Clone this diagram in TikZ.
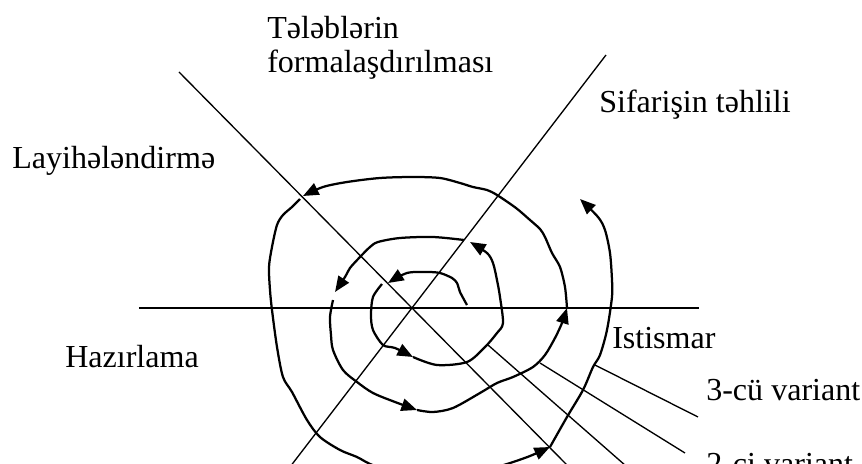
\documentclass[tikz,border=0pt]{standalone}
\usepackage{fontspec}
\setmainfont{Liberation Serif}
\usetikzlibrary{arrows.meta}
\begin{document}
\begin{tikzpicture}[>={Triangle[length=3.9mm,width=3.1mm]},
        axis/.style={line width=0.95pt},
        spiral/.style={->, line width=1.6pt, line join=round},
        lbl/.style={inner sep=0pt, anchor=base west, font=\fontsize{22.8}{24.2}\selectfont}]
        \useasboundingbox (-10.3,-3.9) rectangle (11.25,7.7);
        \clip (-10.3,-3.9) rectangle (11.25,7.7);
        % 1. Ox va iki diaqonal
        \coordinate (O) at (0,0);
        \draw[axis] (-6.825,0) -- (7.175,0);
        \draw[axis] (-5.825,5.9) -- (4.3,-4.356);
        \draw[axis] (4.85,6.325) -- (-3.3,-4.3);

        % 2. Spiral (hisse-hisse, oxlarla)
        \draw[spiral] plot[smooth] coordinates {(1.375,0.075) (1.2,0.4) (1.125,0.625) (1.0,0.75) (0.7,0.875) (0.375,0.9) (-0.125,0.875) (-0.6,0.625)};
        \draw[spiral] plot[smooth] coordinates {(-0.75,0.6) (-0.975,0.275) (-1.025,-0.175) (-0.975,-0.55) (-0.725,-0.925) (-0.425,-1.0) (0.025,-1.225)};
        \draw[spiral] plot[smooth] coordinates {(0.025,-1.225) (0.625,-1.425) (1.375,-1.35) (1.825,-0.975) (2.125,-0.625) (2.275,-0.375) (2.2,0.275) (2.125,0.7) (2.025,1.125) (1.875,1.375) (1.45,1.65)};
        \draw[spiral] plot[smooth] coordinates {(1.3,1.7) (0.525,1.775) (-0.3,1.75) (-0.85,1.65) (-1.05,1.525) (-1.3,1.275) (-1.55,1.0) (-1.675,0.775) (-1.925,0.4)};
        \draw[spiral] plot[smooth] coordinates {(-1.975,0.2) (-2.05,-0.225) (-2.025,-0.675) (-1.975,-1.05) (-1.725,-1.55) (-1.375,-1.85) (-0.975,-2.125) (-0.425,-2.35) (0.125,-2.55)};
        \draw[spiral] plot[smooth] coordinates {(0.125,-2.55) (0.525,-2.6) (1.025,-2.5) (1.7,-2.125) (2.125,-1.875) (2.525,-1.725) (3.025,-1.475) (3.325,-1.175) (3.575,-0.75) (3.75,-0.375) (3.875,0)};
        \draw[spiral] plot[smooth] coordinates {(3.875,0) (3.825,0.525) (3.7,1.025) (3.5,1.375) (3.325,1.775) (3.2,1.975) (2.95,2.2) (2.6,2.5) (2.125,2.825) (1.875,2.95) (1.525,3.025) (1.2,3.125) (0.7,3.25) (0.025,3.275) (-0.8,3.25) (-1.625,3.15) (-2.225,3.025) (-2.725,2.8)};
        \draw[spiral] plot[smooth] coordinates {(-2.8,2.725) (-3.0,2.525) (-3.225,2.325) (-3.375,2.075) (-3.5,1.525) (-3.575,1.025) (-3.55,0.45) (-3.5,-0.05) (-3.375,-0.975) (-3.225,-1.725) (-3.0,-2.1) (-2.625,-2.8) (-2.3,-3.225) (-1.8,-3.55) (-1.375,-3.725) (-0.925,-3.95) (-0.05,-4.15) (0.95,-4.175) (1.825,-4.05) (2.375,-3.9) (2.95,-3.7) (3.45,-3.475)};
        \draw[spiral] plot[smooth] coordinates {(3.45,-3.475) (3.875,-2.725) (4.275,-2.05) (4.525,-1.475) (4.7,-1.175) (4.875,-0.55) (5.0,0.275) (5.0,0.7) (4.95,1.375) (4.825,1.95) (4.65,2.275) (4.2,2.725)};

        % 3. Yazilar
        \node[lbl, align=left, anchor=north west] (req) at (-3.625,7.3) {Tələblərin\\formalaşdırılması};
        \node[lbl] (anal) at (4.675,4.875) {Sifarişin təhlili};
        \node[lbl] (design) at (-10.0,3.5) {Layihələndirmə};
        \node[lbl] (prep) at (-8.675,-1.475) {Hazırlama};
        \node[lbl] (use) at (5.0,-1.0) {Istismar};
        \node[lbl] (v3) at (7.35,-2.3) {3-cü variant};
        \node[lbl] (v2) at (7.35,-4.15) {2-ci variant};

        % 4. Variant xetleri
        \coordinate (v1a) at (1.9,-0.925);
        \coordinate (v1b) at (5.75,-4.3);
        \coordinate (v2a) at (3.2,-1.375);
        \coordinate (v2b) at (6.825,-3.625);
        \coordinate (v3a) at (4.575,-1.425);
        \coordinate (v3b) at (7.15,-2.725);
        \draw[axis] (v1a) -- (v1b);
        \draw[axis] (v2a) -- (v2b);
        \draw[axis] (v3a) -- (v3b);
    \end{tikzpicture}
\end{document}
